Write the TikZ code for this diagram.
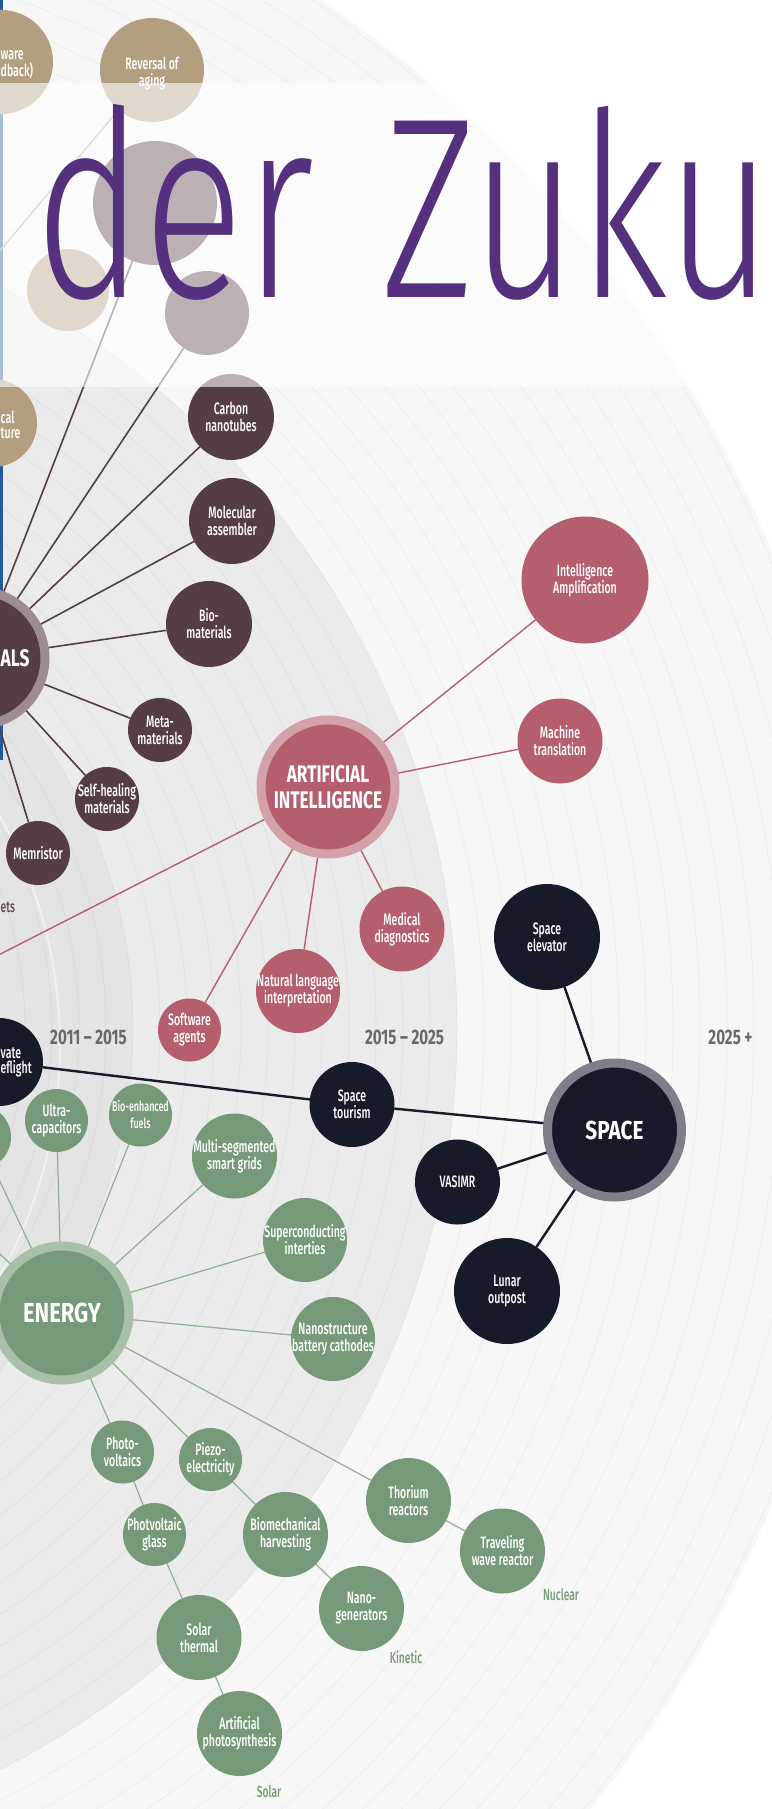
\documentclass[tikz,border=0pt]{standalone}
\usepackage{fontspec}
\setmainfont{Fira Sans}[FakeStretch=0.7]
\newfontfamily\nodefont{Fira Sans Medium}[FakeStretch=0.64]
\newfontfamily\hubfont{Fira Sans}[FakeStretch=0.72]
\newfontfamily\hubwide{Fira Sans}[FakeStretch=0.8]
\newfontfamily\titlefont{Fira Sans Light}[FakeStretch=0.75]
\definecolor{plum}{HTML}{553D48}
\definecolor{plumring}{HTML}{9E8C94}
\definecolor{tanc}{HTML}{B39F80}
\definecolor{aipink}{HTML}{B55E6D}
\definecolor{airing}{HTML}{D3A1AA}
\definecolor{navy}{HTML}{161A29}
\definecolor{navyring}{HTML}{7D8089}
\definecolor{egreen}{HTML}{769A79}
\definecolor{egring}{HTML}{A8BFA8}
\definecolor{egline}{HTML}{8FB08F}
\definecolor{eglabel}{HTML}{779C7A}
\definecolor{bgA}{HTML}{F7F7F7}
\definecolor{bgB}{HTML}{EBEBEB}
\definecolor{bgC}{HTML}{E4E4E4}
\definecolor{yeargray}{HTML}{696969}
\definecolor{titlepurple}{HTML}{55307F}
\definecolor{bluebar}{HTML}{1F5C9E}
\definecolor{etsgray}{HTML}{5D4D55}
\pgfdeclarelayer{bglayer}
\pgfdeclarelayer{edgelayer}
\pgfdeclarelayer{toplayer}
\pgfsetlayers{bglayer,edgelayer,main,toplayer}
\tikzset{
  bubble/.style={circle, inner sep=-10pt, outer sep=0pt, minimum size=#1, align=center, text=white,
    font=\nodefont\fontsize{16.5}{17}\selectfont},
  matn/.style={bubble=#1, fill=plum},
  tann/.style={bubble=#1, fill=tanc},
  ain/.style={bubble=#1, fill=aipink},
  spn/.style={bubble=#1, fill=navy},
  egn/.style={bubble=#1, fill=egreen},
  hub/.style={circle, inner sep=-10pt, outer sep=0pt, minimum size=134pt, line width=9pt,
    align=center, text=white, font=\hubfont\bfseries\fontsize{24}{26}\selectfont},
  matline/.style={draw=plum, line width=1.6pt},
  ailine/.style={draw=aipink, line width=1.4pt},
  spline/.style={draw=navy, line width=2.4pt},
  egedge/.style={draw=egline, line width=1.2pt},
  yearlabel/.style={text=yeargray, font=\hubfont\bfseries\fontsize{21}{22}\selectfont, inner sep=0pt},
  grouplabel/.style={text=eglabel, font=\nodefont\fontsize{16}{17}\selectfont, inner sep=0pt},
  fragment/.style={text=white, font=\nodefont\fontsize{16.5}{17}\selectfont, inner sep=0pt},
  gridarc/.style={draw=black, draw opacity=0.045, line width=0.8pt},
  titletext/.style={anchor=base west, inner sep=0pt, text=titlepurple, font=\titlefont\fontsize{250}{250}\selectfont}
}
\begin{document}
\begin{tikzpicture}[x=1pt,y=-1pt]
\useasboundingbox (0,0) rectangle (771,1809);
\clip (0,0) rectangle (771,1809);
\coordinate (C) at (-373,1028);
\coordinate (Cw) at (-409,1046);
% background rings
\begin{pgfonlayer}{bglayer}
\fill[white] (0,0) rectangle (771,1809);
\fill[bgA] (C) circle[radius=1240pt];
\fill[bgB] (C) circle[radius=830pt];
\fill[bgC] (C) circle[radius=506pt];
\foreach \r in {317,344,...,1235} \draw[gridarc] (C) circle[radius=\r pt];
\draw[white, draw opacity=0.5, line width=1.8pt] (Cw) circle[radius=469pt];
\fill[bluebar] (0,0) rectangle (2.5,760);
\end{pgfonlayer}

% ---------------- MATERIALS ----------------
\node[hub, fill=plum, draw=plumring] (mat) at (-22,658) {};
\node[anchor=west, inner sep=0pt, text=white, font=\hubfont\bfseries\fontsize{24}{26}\selectfont] (matlabel) at (0.5,658) {ALS};
\node[matn=86pt] (carbon) at (231,417) {Carbon\\nanotubes};
\node[matn=86pt] (molec) at (232,521) {Molecular\\assembler};
\node[matn=86pt] (biomat) at (209,624) {Bio-\\materials};
\node[matn=64pt] (meta) at (160,730) {Meta-\\materials};
\node[matn=64pt] (selfheal) at (107,799) {Self-healing\\materials};
\node[matn=64pt] (memristor) at (38,853) {Memristor};
\node[matn=124pt] (fadeA) at (155,203) {};
\node[matn=84pt] (fadeB) at (207,313) {};
\node[tann=82pt] (tanfade) at (68,290) {};
\node[tann=104pt] (reversal) at (152,70) {};
\node[fragment, align=center] (revtext) at (152,74) {Reversal of\\aging};
\node[tann=104pt] (softw) at (1,62) {};
\node[fragment, anchor=west] (softwA) at (0.5,55) {ware};
\node[fragment, anchor=west] (softwB) at (0.5,71) {dback)};
\node[tann=88pt] (chem) at (-7,423) {};
\node[fragment, anchor=west] (chemA) at (0.5,417) {cal};
\node[fragment, anchor=west] (chemB) at (0.5,433) {ture};
\node[anchor=west, inner sep=0pt, text=etsgray, font=\nodefont\fontsize{16}{17}\selectfont] (ets) at (0.5,907) {ets};
\coordinate (revsrc) at (-12,265);

% ---------------- AI ----------------
\node[hub, fill=aipink, draw=airing] (ai) at (328,787) {ARTIFICIAL\\INTELLIGENCE};
\node[ain=127pt] (ia) at (585,580) {Intelligence\\Amplification};
\node[ain=85pt] (mt) at (560,741) {Machine\\translation};
\node[ain=85pt] (md) at (402,929) {Medical\\diagnostics};
\node[ain=84pt] (nl) at (298,991) {Natural language\\interpretation};
\node[ain=63pt] (sa) at (189.5,1030) {Software\\agents};
\coordinate (aioff) at (-80,995);

% ---------------- SPACE ----------------
\node[hub, fill=navy, draw=navyring, font=\hubwide\bfseries\fontsize{26}{28}\selectfont] (space) at (614.5,1130) {SPACE};
\node[spn=106pt] (se) at (547,937) {Space\\elevator};
\node[spn=85pt] (vasimr) at (457.5,1182) {VASIMR};
\node[spn=106pt] (lunar) at (507,1291) {Lunar\\outpost};
\node[spn=85pt] (tourism) at (352,1104.5) {Space\\tourism};
\node[spn=88pt] (private) at (-1,1062) {};
\node[fragment, anchor=west] (privA) at (0.5,1053) {vate};
\node[fragment, anchor=west] (privB) at (0.5,1069) {eflight};

% ---------------- ENERGY ----------------
\node[hub, fill=egreen, draw=egring, font=\hubwide\bfseries\fontsize{27.5}{29}\selectfont] (energy) at (62,1313) {ENERGY};
\node[egn=63pt] (uc) at (56.5,1120.5) {Ultra-\\capacitors};
\node[egn=63pt, font=\nodefont\fontsize{14}{17}\selectfont] (bf) at (140.5,1115) {Bio-enhanced\\fuels};
\node[egn=64pt] (leftg) at (-21,1137) {};
\node[egn=85pt] (ms) at (234.5,1156) {Multi-segmented\\smart grids};
\node[egn=84pt] (si) at (305,1240) {Superconducting\\interties};
\node[egn=84pt] (nb) at (333,1339) {Nanostructure\\battery cathodes};
\node[egn=63pt] (pv) at (122.5,1452) {Photo-\\voltaics};
\node[egn=63pt] (pz) at (210.5,1459.5) {Piezo-\\electricity};
\node[egn=63pt] (pg) at (154.5,1534.5) {Photvoltaic\\glass};
\node[egn=85pt] (bh) at (285.5,1534.5) {Biomechanical\\harvesting};
\node[egn=85pt] (tr) at (408.5,1500.5) {Thorium\\reactors};
\node[egn=85pt] (tw) at (502.5,1551) {Traveling\\wave reactor};
\node[egn=85pt] (ng) at (361.5,1608.5) {Nano-\\generators};
\node[egn=85pt] (sth) at (199,1637.5) {Solar\\thermal};
\node[egn=85pt] (ap) at (239.5,1733.5) {Artificial\\photosynthesis};
\coordinate (egoff) at (-60,1197);
\node[grouplabel] (kinetic) at (406,1657) {Kinetic};
\node[grouplabel] (solar) at (269,1792) {Solar};
\node[grouplabel] (nuclear) at (561,1595) {Nuclear};

% year labels
\node[yearlabel] (y1) at (88.5,1037) {2011 – 2015};
\node[yearlabel] (y2) at (404.5,1037) {2015 – 2025};
\node[yearlabel] (y3) at (730.5,1037) {2025 +};

% ---------------- connectors ----------------
\begin{pgfonlayer}{edgelayer}
\foreach \t in {carbon,molec,biomat,meta,selfheal,memristor,fadeA,fadeB}
  \draw[matline] (mat) -- (\t);
\draw[draw=tanc, line width=1.2pt] (revsrc) -- (reversal);
\foreach \t in {ia,mt,md,nl,sa}
  \draw[ailine] (ai) -- (\t);
\draw[ailine] (ai) -- (aioff);
\draw[spline] (private) -- (tourism);
\draw[spline] (tourism) -- (space);
\foreach \t in {se,vasimr,lunar}
  \draw[spline] (space) -- (\t);
\foreach \t in {uc,bf,leftg,ms,si,nb,pv,pz,tr}
  \draw[egedge] (energy) -- (\t);
\draw[egedge] (energy) -- (egoff);
\draw[egedge] (pv) -- (pg);
\draw[egedge] (pg) -- (sth);
\draw[egedge] (sth) -- (ap);
\draw[egedge] (pz) -- (bh);
\draw[egedge] (bh) -- (ng);
\draw[egedge] (tr) -- (tw);
\end{pgfonlayer}

% ---------------- title band ----------------
\begin{pgfonlayer}{toplayer}
\fill[white, opacity=0.6] (0,83) rectangle (771,387);
\node[titletext] (titleA) at (34,297) {\scalebox{1.0}[1.04]{der}};
\node[titletext] (titleB) at (381,297) {\scalebox{0.98}[1.03]{Zuku}};
\end{pgfonlayer}
\end{tikzpicture}
\end{document}
